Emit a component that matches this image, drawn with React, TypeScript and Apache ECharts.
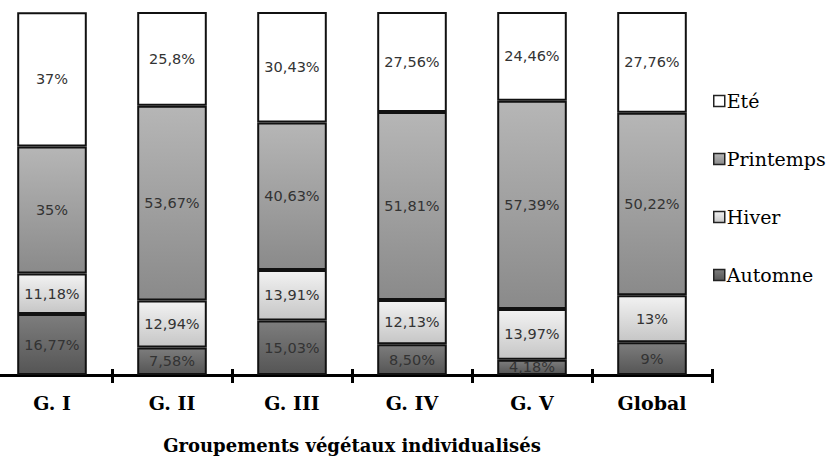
import React, { useEffect, useRef } from "react";
import * as echarts from "echarts";

const categories = ["G. I", "G. II", "G. III", "G. IV", "G. V", "Global"];
const automne = ["16,77", "7,58", "15,03", "8,50", "4,18", "9"];
const hiver = ["11,18", "12,94", "13,91", "12,13", "13,97", "13"];
const printemps = ["35", "53,67", "40,63", "51,81", "57,39", "50,22"];
const ete = ["37", "25,8", "30,43", "27,56", "24,46", "27,76"];
const axisName = "Groupements végétaux individualisés";

const toNum = (s: string) => parseFloat(s.replace(",", "."));

const grad = (top: string, bottom: string) =>
  new echarts.graphic.LinearGradient(0, 0, 0, 1, [
    { offset: 0, color: top },
    { offset: 1, color: bottom },
  ]);

export default function App() {
  const ref = useRef<HTMLDivElement>(null);
  useEffect(() => {
    if (!ref.current) return;
    const chart = echarts.init(ref.current, null, { renderer: "svg" });
    const mk = (name: string, labels: string[], color: any) => ({
      name,
      type: "bar",
      stack: "total",
      barWidth: "58%",
      xAxisIndex: 0,
      yAxisIndex: 0,
      data: labels.map((s) => toNum(s)),
      itemStyle: { color, borderColor: "#111", borderWidth: 2 },
      label: {
        show: true,
        position: "inside",
        fontFamily: "DejaVu Sans",
        fontSize: 14.5,
        color: "#333",
        formatter: (p: any) => labels[p.dataIndex] + "%",
      },
      emphasis: { disabled: true },
    });
    const gridBox = { left: -8, width: 720, top: 12, bottom: 89, outerBoundsMode: "none", containLabel: false };
    chart.setOption({
      animation: false,
      grid: [{ ...gridBox }, { ...gridBox }],
      xAxis: [
        {
          type: "category",
          gridIndex: 0,
          data: categories,
          axisLine: { lineStyle: { color: "#000", width: 3 } },
          axisTick: { show: true, length: 8, lineStyle: { color: "#000", width: 3 } },
          axisLabel: {
            margin: 18,
            fontFamily: "DejaVu Serif",
            fontWeight: "bold",
            fontSize: 19,
            color: "#000",
          },
          name: axisName,
          nameLocation: "middle",
          nameGap: 61,
          nameTextStyle: {
            fontFamily: "DejaVu Serif",
            fontWeight: "bold",
            fontSize: 18,
            color: "#000",
            verticalAlign: "top",
          },
        },
        {
          type: "category",
          gridIndex: 1,
          data: categories,
          axisLine: { show: false },
          axisTick: { show: true, inside: true, length: 6, lineStyle: { color: "#000", width: 3 } },
          axisLabel: { show: false },
        },
      ],
      yAxis: [
        { type: "value", gridIndex: 0, min: 0, max: 100, show: false },
        { type: "value", gridIndex: 1, min: 0, max: 100, show: false },
      ],
      legend: {
        orient: "vertical",
        left: 713,
        top: 91,
        padding: 0,
        itemWidth: 11,
        itemHeight: 11,
        itemGap: 38,
        icon: "rect",
        data: ["Eté", "Printemps", "Hiver", "Automne"],
        itemStyle: { borderColor: "#222", borderWidth: 1.5 },
        textStyle: {
          fontFamily: "DejaVu Serif",
          fontSize: 19,
          color: "#000",
          padding: [0, 0, 0, -3],
          lineHeight: 20,
        },
        selectedMode: false,
      },
      series: [
        mk("Automne", automne, grad("#7d7d7d", "#555555")),
        mk("Hiver", hiver, grad("#f2f2f2", "#c6c6c6")),
        mk("Printemps", printemps, grad("#b6b6b6", "#8a8a8a")),
        mk("Eté", ete, "#ffffff"),
      ],
    });
    return () => chart.dispose();
  }, []);
  return (
    <div
      ref={ref}
      style={{ position: "fixed", left: 0, top: 0, width: 831, height: 464, background: "#fff" }}
    />
  );
}
